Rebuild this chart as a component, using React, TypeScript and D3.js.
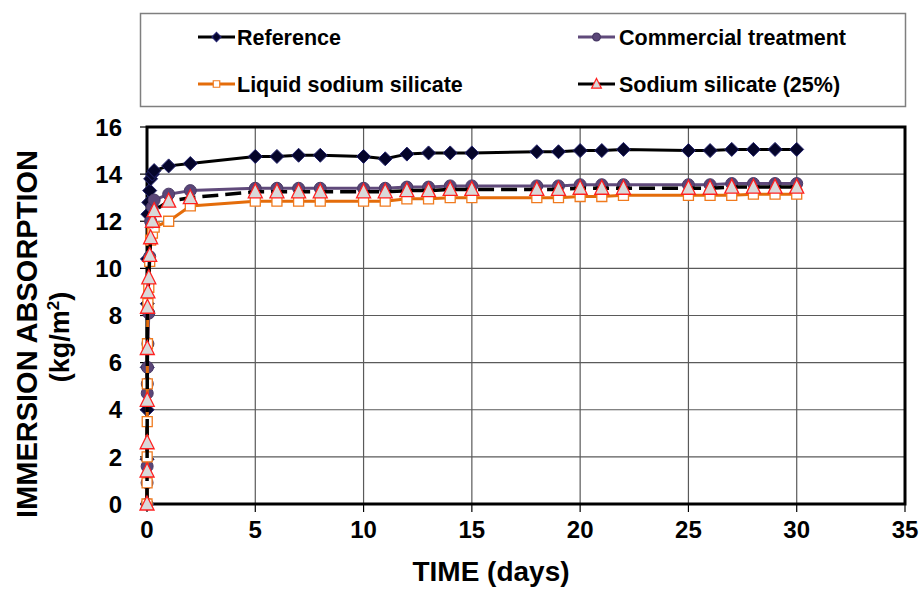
import React, { useEffect, useRef } from 'react';
import * as d3 from 'd3';

// time in days (many readings during the first hours, then daily)
const days = [
  0, 0.0035, 0.007, 0.0104, 0.0139, 0.021, 0.042, 0.083, 0.125, 0.167, 0.25, 0.33,
  1, 2, 5, 6, 7, 8, 10, 11, 12, 13, 14, 15, 18, 19, 20, 21, 22, 25, 26, 27, 28, 29, 30,
];

const reference = [
  0, 1.9, 4.0, 5.8, 8.5, 10.4, 12.3, 12.8, 13.3, 13.8, 14.0, 14.15,
  14.35, 14.45, 14.75, 14.75, 14.8, 14.8, 14.75, 14.65, 14.85, 14.9, 14.9, 14.9,
  14.95, 14.95, 15.0, 15.0, 15.05, 15.0, 15.0, 15.05, 15.05, 15.05, 15.05,
];
const commercial = [
  0, 0.9, 1.6, 4.7, 5.1, 5.8, 6.8, 8.1, 10.5, 12.0, 12.6, 12.9,
  13.15, 13.3, 13.4, 13.4, 13.4, 13.4, 13.4, 13.4, 13.45, 13.45, 13.5, 13.5,
  13.5, 13.5, 13.55, 13.55, 13.55, 13.55, 13.55, 13.6, 13.6, 13.6, 13.6,
];
const liquidSilicate = [
  0, 0.9, 2.0, 3.5, 5.1, 6.8, 8.5, 9.2, 10.3, 11.2, 11.5, 11.75,
  12.0, 12.65, 12.85, 12.85, 12.85, 12.85, 12.85, 12.85, 12.95, 12.95, 13.0, 13.0,
  13.0, 13.0, 13.05, 13.05, 13.1, 13.1, 13.1, 13.1, 13.15, 13.15, 13.15,
];
const silicate25 = [
  0, 1.4, 2.6, 4.4, 6.6, 8.35, 9.0, 9.6, 10.55, 11.3, 12.0, 12.45,
  12.85, 13.0, 13.25, 13.25, 13.25, 13.25, 13.25, 13.25, 13.3, 13.3, 13.35, 13.35,
  13.35, 13.35, 13.4, 13.4, 13.4, 13.4, 13.4, 13.45, 13.45, 13.45, 13.45,
];

const xTicks = [0, 5, 10, 15, 20, 25, 30, 35];
const yTicks = [0, 2, 4, 6, 8, 10, 12, 14, 16];

type Marker = 'diamond' | 'circle' | 'square' | 'triangle';

interface Series {
  name: string;
  values: number[];
  stroke: string;
  dash?: string;
  marker: Marker;
  fill: string;
  markerStroke: string;
}

const series: Series[] = [
  { name: 'Reference', values: reference, stroke: '#000000', marker: 'diamond', fill: '#05052a', markerStroke: '#24246e' },
  { name: 'Commercial treatment', values: commercial, stroke: '#604a7b', marker: 'circle', fill: '#5a4678', markerStroke: '#4a3a66' },
  { name: 'Liquid sodium silicate', values: liquidSilicate, stroke: '#e46c0a', marker: 'square', fill: '#ffffff', markerStroke: '#f07a1e' },
  { name: 'Sodium silicate (25%)', values: silicate25, stroke: '#000000', dash: '16,7', marker: 'triangle', fill: '#d9d9d9', markerStroke: '#ff2020' },
];

const FONT = '"Liberation Sans", Arial, sans-serif';

const markerPath = (m: Marker, k: number) => {
  if (m === 'diamond') return `M0,${-7 * k}L${7 * k},0L0,${7 * k}L${-7 * k},0Z`;
  if (m === 'square') return `M${-5 * k},${-5 * k}h${10 * k}v${10 * k}h${-10 * k}Z`;
  if (m === 'triangle') return `M0,${-8 * k}L${7 * k},${6 * k}L${-7 * k},${6 * k}Z`;
  return d3.symbol().type(d3.symbolCircle).size(113 * k * k)() as string;
};

export default function App() {
  const svgRef = useRef<SVGSVGElement>(null);

  useEffect(() => {
    if (!svgRef.current) return;
    const svg = d3.select(svgRef.current);
    svg.selectAll('*').remove();

    const plot = { left: 147, right: 905, top: 127, bottom: 504 };

    const x = d3.scaleLinear().domain([0, 35]).range([plot.left, plot.right]);
    const y = d3.scaleLinear().domain([0, 16]).range([plot.bottom, plot.top]);

    // Legend box
    svg.append('rect')
      .attr('x', 140.5).attr('y', 13.5).attr('width', 765).attr('height', 93)
      .attr('fill', '#fff').attr('stroke', '#7f7f7f').attr('stroke-width', 1.5);

    const legendPos = [
      { lx: 198, tx: 237, ty: 37 },
      { lx: 578, tx: 619, ty: 37 },
      { lx: 198, tx: 237, ty: 84 },
      { lx: 578, tx: 619, ty: 84 },
    ];
    series.forEach((s, i) => {
      const p = legendPos[i];
      svg.append('line')
        .attr('x1', p.lx).attr('x2', p.lx + 37).attr('y1', p.ty).attr('y2', p.ty)
        .attr('stroke', s.stroke).attr('stroke-width', 3);
      svg.append('path')
        .attr('d', markerPath(s.marker, s.marker === 'triangle' ? 0.7 : 0.65))
        .attr('transform', `translate(${p.lx + 18.5},${p.ty})`)
        .attr('fill', s.fill).attr('stroke', s.markerStroke).attr('stroke-width', 1.2);
      svg.append('text')
        .attr('x', p.tx).attr('y', p.ty).attr('dy', '0.36em')
        .attr('font-family', FONT).attr('font-weight', 'bold').attr('font-size', 21.5)
        .attr('fill', '#000')
        .text(s.name);
    });

    // Grid
    const grid = svg.append('g').attr('stroke', '#5a5a5a').attr('stroke-width', 1.2);
    xTicks.slice(1, -1).forEach(t => {
      grid.append('line').attr('x1', x(t)).attr('x2', x(t)).attr('y1', plot.top).attr('y2', plot.bottom);
    });
    yTicks.slice(1, -1).forEach(t => {
      grid.append('line').attr('x1', plot.left).attr('x2', plot.right).attr('y1', y(t)).attr('y2', y(t));
    });

    // Tick marks
    const ticks = svg.append('g').attr('stroke', '#000').attr('stroke-width', 1.2);
    xTicks.forEach(t => {
      ticks.append('line').attr('x1', x(t)).attr('x2', x(t)).attr('y1', plot.bottom).attr('y2', plot.bottom + 8);
    });
    yTicks.forEach(t => {
      ticks.append('line').attr('x1', plot.left - 7).attr('x2', plot.left).attr('y1', y(t)).attr('y2', y(t));
    });

    // Plot frame
    svg.append('rect')
      .attr('x', plot.left).attr('y', plot.top)
      .attr('width', plot.right - plot.left).attr('height', plot.bottom - plot.top)
      .attr('fill', 'none').attr('stroke', '#000').attr('stroke-width', 3);

    // Tick labels
    xTicks.forEach(t => {
      svg.append('text')
        .attr('x', x(t)).attr('y', 529).attr('dy', '0.36em').attr('text-anchor', 'middle')
        .attr('font-family', FONT).attr('font-weight', 'bold').attr('font-size', 24)
        .text(t);
    });
    yTicks.forEach(t => {
      svg.append('text')
        .attr('x', 122).attr('y', y(t)).attr('dy', '0.36em').attr('text-anchor', 'end')
        .attr('font-family', FONT).attr('font-weight', 'bold').attr('font-size', 24)
        .text(t);
    });

    // Axis titles
    svg.append('text')
      .attr('x', 491).attr('y', 571).attr('dy', '0.36em').attr('text-anchor', 'middle')
      .attr('font-family', FONT).attr('font-weight', 'bold').attr('font-size', 28)
      .text('TIME (days)');

    svg.append('text')
      .attr('transform', 'translate(27,334) rotate(-90)')
      .attr('dy', '0.36em').attr('text-anchor', 'middle')
      .attr('font-family', FONT).attr('font-weight', 'bold').attr('font-size', 29)
      .text('IMMERSION ABSORPTION');

    const unit = svg.append('text')
      .attr('transform', 'translate(59,337) rotate(-90)')
      .attr('dy', '0.36em').attr('text-anchor', 'middle')
      .attr('font-family', FONT).attr('font-weight', 'bold').attr('font-size', 27);
    unit.append('tspan').text('(kg/m');
    unit.append('tspan').attr('font-size', 17).attr('dy', '-0.55em').text('2');
    unit.append('tspan').attr('dy', '0.35em').text(')');

    // Series
    const line = d3.line<number>()
      .x((_, i) => x(days[i]))
      .y(d => y(d));

    series.forEach(s => {
      svg.append('path')
        .datum(s.values)
        .attr('fill', 'none')
        .attr('stroke', s.stroke)
        .attr('stroke-width', s.dash ? 3.5 : 3)
        .attr('stroke-dasharray', s.dash ?? null)
        .attr('stroke-linejoin', 'round')
        .attr('d', line);

      svg.append('g')
        .selectAll('path')
        .data(s.values)
        .join('path')
        .attr('d', markerPath(s.marker, 1))
        .attr('transform', (d, i) => `translate(${x(days[i])},${y(d)})`)
        .attr('fill', s.fill)
        .attr('stroke', s.markerStroke)
        .attr('stroke-width', s.marker === 'square' || s.marker === 'triangle' ? 1.3 : 1);
    });
  }, []);

  return (
    <div style={{ position: 'absolute', left: 0, top: 0 }}>
      <svg ref={svgRef} width={924} height={589} style={{ display: 'block', background: '#fff' }} />
    </div>
  );
}
